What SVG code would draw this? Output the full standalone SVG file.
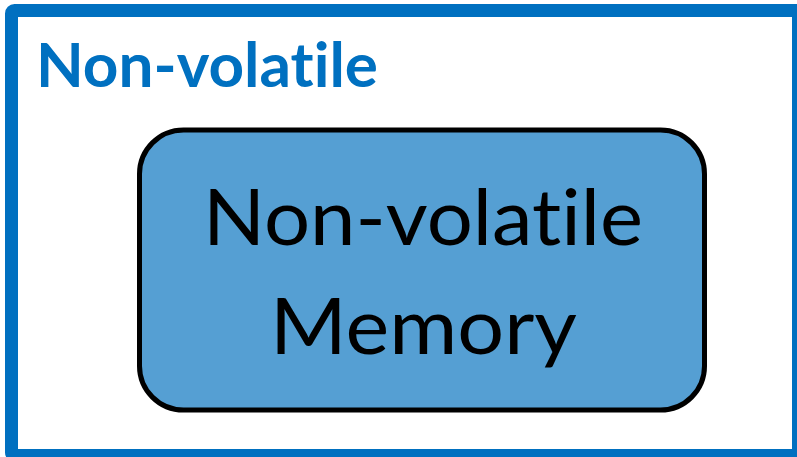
<svg xmlns="http://www.w3.org/2000/svg" width="797" height="457" viewBox="0 0 797 457">
  <style>
    text { font-variant-ligatures: none; font-feature-settings: "liga" 0, "clig" 0, "dlig" 0; }
    .frame { fill: #ffffff; stroke: #0070C0; stroke-width: 13; }
    .frame-title { font-family: "Lato", "Open Sans", "Liberation Sans", sans-serif; font-weight: bold; font-size: 61px; fill: #0070C0; }
    .box { fill: #559FD3; stroke: #000000; stroke-width: 5; }
    .box-label { font-family: "Lato", "Open Sans", "Liberation Sans", sans-serif; font-size: 77px; fill: #000000; }
  </style>
  <rect x="0" y="0" width="797" height="457" fill="#ffffff"/>
  <g id="nonvolatile-frame">
    <rect class="frame" x="11.5" y="10.5" width="787" height="445" rx="3"/>
    <text class="frame-title" x="36" y="87" textLength="342" lengthAdjust="spacingAndGlyphs">Non-volatile</text>
  </g>
  <g id="nonvolatile-memory">
    <rect class="box" x="139.5" y="130" width="565" height="280" rx="44"/>
    <text class="box-label" x="203" y="245" textLength="440" lengthAdjust="spacingAndGlyphs">Non-volatile</text>
    <text class="box-label" x="270" y="354" textLength="307" lengthAdjust="spacingAndGlyphs">Memory</text>
  </g>
  <g id="connectors"/>
</svg>
